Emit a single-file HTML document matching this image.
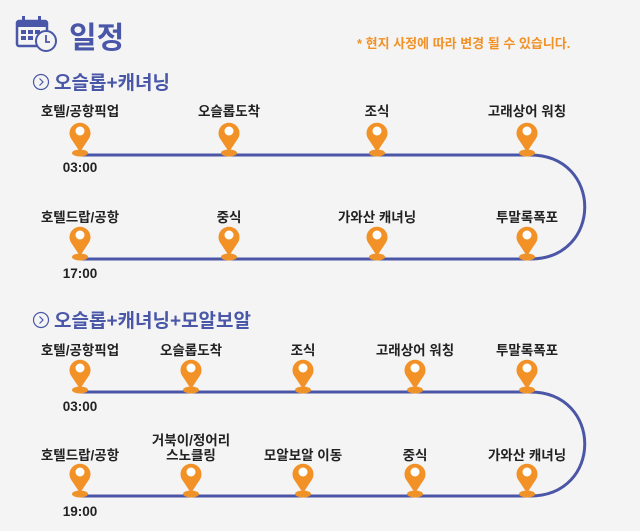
<!DOCTYPE html>
<html><head><meta charset="utf-8"><style>
html,body{margin:0;padding:0;background:#f4f4f4;}
svg{display:block;}
text{font-family:"Liberation Sans","Noto Sans CJK KR",sans-serif;}
.l{font-size:13.5px;font-weight:bold;fill:#222;text-anchor:middle;}
.t{font-size:13.5px;font-weight:bold;fill:#222;text-anchor:middle;}
.h{font-size:19px;font-weight:bold;fill:#4a57a8;}
</style></head><body>
<svg width="640" height="531" viewBox="0 0 640 531">
<defs>
<g id="pin">
<ellipse cx="0" cy="-3" rx="8" ry="3.5" fill="#f0922a"/>
<path d="M0,-4 L-8,-16 A10.5,10.5 0 1,1 8,-16 Z" fill="#f29126"/>
<circle cx="0" cy="-25" r="4.5" fill="#fff"/>
</g>
</defs>
<g fill="#4a57a8">
<rect x="17" y="21" width="30" height="25" rx="2" fill="none" stroke="#4a57a8" stroke-width="2.5"/>
<rect x="17" y="21" width="30" height="6"/>
<rect x="22" y="16" width="3" height="8"/><rect x="38" y="16" width="3" height="8"/>
<rect x="21" y="30" width="5" height="4"/><rect x="28" y="30" width="5" height="4"/><rect x="35" y="30" width="5" height="4"/>
<rect x="21" y="36" width="5" height="4"/><rect x="28" y="36" width="5" height="4"/>
</g>
<circle cx="46" cy="41" r="10" fill="#f4f4f4" stroke="#4a57a8" stroke-width="2"/>
<path d="M46,35 V42 H50" fill="none" stroke="#4a57a8" stroke-width="1.8"/>
<text x="69" y="48" font-size="30" font-weight="bold" fill="#4a57a8">일정</text>
<text x="357" y="48" font-size="13" font-weight="bold" fill="#f29126">* 현지 사정에 따라 변경 될 수 있습니다.</text>

<circle cx="41" cy="82" r="7.5" fill="none" stroke="#4a57a8" stroke-width="1.2"/>
<path d="M39.5,78.5 L43,82 L39.5,85.5" fill="none" stroke="#4a57a8" stroke-width="1.2"/>
<text x="54" y="89" class="h">오슬롭+캐녀닝</text>
<path d="M80,155 H530 C603,155 603,259 530,259 H80" fill="none" stroke="#4b56a6" stroke-width="3"/>
<text x="80" y="116" class="l">호텔/공항픽업</text>
<text x="229" y="116" class="l">오슬롭도착</text>
<text x="377" y="116" class="l">조식</text>
<text x="527" y="116" class="l">고래상어 워칭</text>
<use href="#pin" x="80" y="156"/><use href="#pin" x="229" y="156"/><use href="#pin" x="377" y="156"/><use href="#pin" x="527" y="156"/>
<text x="80" y="172" class="t">03:00</text>
<text x="80" y="222" class="l">호텔드랍/공항</text>
<text x="229" y="222" class="l">중식</text>
<text x="377" y="222" class="l">가와산 캐녀닝</text>
<text x="527" y="222" class="l">투말록폭포</text>
<use href="#pin" x="80" y="260"/><use href="#pin" x="229" y="260"/><use href="#pin" x="377" y="260"/><use href="#pin" x="527" y="260"/>
<text x="80" y="278" class="t">17:00</text>

<circle cx="41" cy="320" r="7.5" fill="none" stroke="#4a57a8" stroke-width="1.2"/>
<path d="M39.5,316.5 L43,320 L39.5,323.5" fill="none" stroke="#4a57a8" stroke-width="1.2"/>
<text x="54" y="327" class="h">오슬롭+캐녀닝+모알보알</text>
<path d="M80,392 H530 C603,392 603,496 530,496 H80" fill="none" stroke="#4b56a6" stroke-width="3"/>
<text x="80" y="355" class="l">호텔/공항픽업</text>
<text x="191" y="355" class="l">오슬롭도착</text>
<text x="303" y="355" class="l">조식</text>
<text x="415" y="355" class="l">고래상어 워칭</text>
<text x="527" y="355" class="l">투말록폭포</text>
<use href="#pin" x="80" y="393"/><use href="#pin" x="191" y="393"/><use href="#pin" x="303" y="393"/><use href="#pin" x="415" y="393"/><use href="#pin" x="527" y="393"/>
<text x="80" y="411" class="t">03:00</text>
<text x="191" y="445" class="l">거북이/정어리</text>
<text x="80" y="460" class="l">호텔드랍/공항</text>
<text x="191" y="460" class="l">스노클링</text>
<text x="303" y="460" class="l">모알보알 이동</text>
<text x="415" y="460" class="l">중식</text>
<text x="527" y="460" class="l">가와산 캐녀닝</text>
<use href="#pin" x="80" y="497"/><use href="#pin" x="191" y="497"/><use href="#pin" x="303" y="497"/><use href="#pin" x="415" y="497"/><use href="#pin" x="527" y="497"/>
<text x="80" y="516" class="t">19:00</text>
</svg>
</body></html>
